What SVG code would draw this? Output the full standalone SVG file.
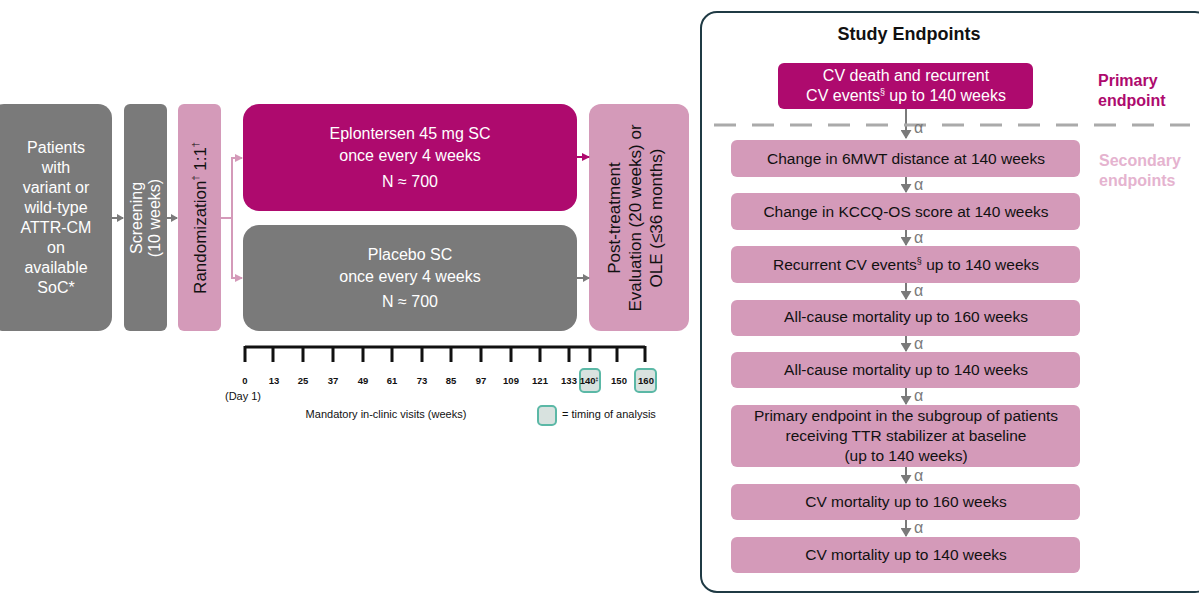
<svg xmlns="http://www.w3.org/2000/svg" width="1199" height="601" viewBox="0 0 1199 601">
<style>
text{font-family:"Liberation Sans",Arial,sans-serif}
.w{fill:#fff;font-size:16px;text-anchor:middle}
.k{fill:#111;font-size:15.5px;text-anchor:middle}
.g{fill:#7a7a7a}.p{fill:#d49ab9}.m{fill:#ae0a6e}
.t{font-size:9.5px;font-weight:bold;text-anchor:middle;fill:#111}
.a{fill:#7a7a7a;font-size:16px}
</style>
<defs>
<marker id="ag" markerWidth="7" markerHeight="8" refX="6" refY="4" orient="auto" markerUnits="userSpaceOnUse"><path d="M0,0L7,4L0,8z" fill="#7a7a7a"/></marker>
<marker id="ap" markerWidth="8" markerHeight="8" refX="7" refY="4" orient="auto" markerUnits="userSpaceOnUse"><path d="M0,0L8,4L0,8z" fill="#d49ab9"/></marker>
<marker id="am" markerWidth="8" markerHeight="8" refX="7" refY="4" orient="auto" markerUnits="userSpaceOnUse"><path d="M0,0L8,4L0,8z" fill="#ae0a6e"/></marker>
<marker id="ad" markerWidth="9" markerHeight="11" refX="8" refY="5.5" orient="auto" markerUnits="userSpaceOnUse"><path d="M0,0L9,5.5L0,11z" fill="#7a7a7a"/></marker>
</defs>
<rect width="1199" height="601" fill="#fff"/>
<g id="patients"><rect x="-10" y="104" width="122" height="227" rx="14" class="g"/>
<text class="w" font-size="16"><tspan x="56" y="153">Patients</tspan><tspan x="56" y="173">with</tspan><tspan x="56" y="193">variant or</tspan><tspan x="56" y="213">wild-type</tspan><tspan x="56" y="233">ATTR-CM</tspan><tspan x="56" y="253">on</tspan><tspan x="56" y="273">available</tspan><tspan x="56" y="293">SoC*</tspan></text></g>
<g id="screening"><rect x="124" y="104" width="43" height="227" rx="6" class="g"/>
<text class="w" transform="translate(145,218) rotate(-90)"><tspan x="0" y="-3">Screening</tspan><tspan x="0" y="15">(10 weeks)</tspan></text></g>
<g id="randomization"><rect x="178" y="104" width="43" height="227" rx="6" class="p"/>
<text fill="#111" font-size="17" text-anchor="middle" transform="translate(206,218) rotate(-90)">Randomization<tspan font-size="9" dy="-7">†</tspan><tspan dy="7"> 1:1</tspan><tspan font-size="9" dy="-7">†</tspan></text></g>
<g id="eplontersen"><rect x="243" y="104" width="334" height="107" rx="16" class="m"/>
<text class="w"><tspan x="410" y="139">Eplontersen 45 mg SC</tspan><tspan x="410" y="161">once every 4 weeks</tspan><tspan x="410" y="187">N ≈ 700</tspan></text></g>
<g id="placebo"><rect x="243" y="225" width="334" height="106" rx="16" class="g"/>
<text class="w"><tspan x="410" y="260">Placebo SC</tspan><tspan x="410" y="282">once every 4 weeks</tspan><tspan x="410" y="307">N ≈ 700</tspan></text></g>
<g id="post"><rect x="589" y="104" width="100" height="227" rx="12" class="p"/>
<text fill="#111" font-size="17" text-anchor="middle" transform="translate(636,218) rotate(-90)"><tspan x="0" y="-16">Post-treatment</tspan><tspan x="0" y="5">Evaluation (20 weeks) or</tspan><tspan x="0" y="26">OLE (≤36 months)</tspan></text></g>
<g id="connectors" fill="none">
<path d="M112,218H123" stroke="#7a7a7a" stroke-width="2" marker-end="url(#ag)"/>
<path d="M167,218H177" stroke="#7a7a7a" stroke-width="2" marker-end="url(#ag)"/>
<path d="M221,218H232M232,158V278" stroke="#d49ab9" stroke-width="2"/>
<path d="M231,158H242" stroke="#d49ab9" stroke-width="2" marker-end="url(#ap)"/>
<path d="M231,278H242" stroke="#d49ab9" stroke-width="2" marker-end="url(#ap)"/>
<path d="M577,157H589" stroke="#ae0a6e" stroke-width="2" marker-end="url(#am)"/>
<path d="M577,278H589" stroke="#7a7a7a" stroke-width="2" marker-end="url(#ag)"/>
<path d="M906,109V138" stroke="#7a7a7a" stroke-width="2" marker-end="url(#ad)"/>
<path d="M906,177V192" stroke="#7a7a7a" stroke-width="2" marker-end="url(#ad)"/>
<path d="M906,230V245" stroke="#7a7a7a" stroke-width="2" marker-end="url(#ad)"/>
<path d="M906,283V299" stroke="#7a7a7a" stroke-width="2" marker-end="url(#ad)"/>
<path d="M906,336V351" stroke="#7a7a7a" stroke-width="2" marker-end="url(#ad)"/>
<path d="M906,388V404" stroke="#7a7a7a" stroke-width="2" marker-end="url(#ad)"/>
<path d="M906,467V483" stroke="#7a7a7a" stroke-width="2" marker-end="url(#ad)"/>
<path d="M906,520V536" stroke="#7a7a7a" stroke-width="2" marker-end="url(#ad)"/>
</g>
<g id="timeline">
<path d="M245,347H645M245,346V362M273,346V362M303,346V362M333,346V362M363,346V362M392,346V362M422,346V362M451,346V362M481,346V362M511,346V362M540,346V362M569,346V362M590,346V362M617,346V362M645,346V362" stroke="#111" stroke-width="3" fill="none"/>
<rect x="580" y="369" width="20" height="23" rx="4" fill="#d8e2df" stroke="#5bb8a6" stroke-width="2"/>
<rect x="635" y="369" width="21" height="23" rx="4" fill="#d8e2df" stroke="#5bb8a6" stroke-width="2"/>
<text class="t"><tspan x="245" y="384">0</tspan><tspan x="274" y="384">13</tspan><tspan x="303" y="384">25</tspan><tspan x="333" y="384">37</tspan><tspan x="363" y="384">49</tspan><tspan x="392" y="384">61</tspan><tspan x="422" y="384">73</tspan><tspan x="451" y="384">85</tspan><tspan x="481" y="384">97</tspan><tspan x="511" y="384">109</tspan><tspan x="540" y="384">121</tspan><tspan x="569" y="384">133</tspan><tspan x="589" y="384">140<tspan font-size="5" dy="-3">‡</tspan></tspan><tspan x="619" y="384">150</tspan><tspan x="646" y="384">160</tspan></text>
<text x="243" y="400" font-size="11" text-anchor="middle" fill="#111">(Day 1)</text>
<text x="386" y="418" font-size="11" text-anchor="middle" fill="#111">Mandatory in-clinic visits (weeks)</text>
<rect x="538" y="406" width="18" height="19" rx="4" fill="#d8e2df" stroke="#5bb8a6" stroke-width="2"/>
<text x="562" y="418" font-size="11" fill="#111">= timing of analysis</text>
</g>
<g id="panel"><rect x="701" y="12" width="510" height="580" rx="16" fill="none" stroke="#1f3a44" stroke-width="2"/>
<text x="909" y="40" font-size="18" font-weight="bold" text-anchor="middle" fill="#111">Study Endpoints</text>
<path d="M714,125H1190" stroke="#aaa" stroke-width="3" stroke-dasharray="22,16" fill="none"/>
<text font-size="16" font-weight="bold" fill="#ae0a6e"><tspan x="1098" y="86">Primary</tspan><tspan x="1098" y="106">endpoint</tspan></text>
<text font-size="16" font-weight="bold" fill="#e5b3cf"><tspan x="1099" y="166">Secondary</tspan><tspan x="1099" y="186">endpoints</tspan></text>
</g>
<g id="primary"><rect x="778" y="63" width="255" height="46" rx="6" class="m"/>
<text class="w" font-size="15.5"><tspan x="906" y="81">CV death and recurrent</tspan><tspan x="906" y="101">CV events<tspan font-size="9" dy="-6">§</tspan><tspan dy="6"> up to 140 weeks</tspan></tspan></text></g>
<g class="a"><text x="914" y="133">α</text><text x="914" y="190">α</text><text x="914" y="243">α</text><text x="914" y="296">α</text><text x="914" y="349">α</text><text x="914" y="401">α</text><text x="914" y="481">α</text><text x="914" y="533">α</text></g>
<g id="s1"><rect x="731" y="140" width="349" height="37" rx="6" class="p"/><text class="k" x="906" y="164">Change in 6MWT distance at 140 weeks</text></g>
<g id="s2"><rect x="731" y="193" width="349" height="37" rx="6" class="p"/><text class="k" x="906" y="217">Change in KCCQ-OS score at 140 weeks</text></g>
<g id="s3"><rect x="731" y="246" width="349" height="37" rx="6" class="p"/><text class="k" x="906" y="270">Recurrent CV events<tspan font-size="9" dy="-6">§</tspan><tspan dy="6"> up to 140 weeks</tspan></text></g>
<g id="s4"><rect x="731" y="300" width="349" height="36" rx="6" class="p"/><text class="k" x="906" y="322">All-cause mortality up to 160 weeks</text></g>
<g id="s5"><rect x="731" y="352" width="349" height="36" rx="6" class="p"/><text class="k" x="906" y="375">All-cause mortality up to 140 weeks</text></g>
<g id="s6"><rect x="731" y="405" width="349" height="62" rx="6" class="p"/><text class="k"><tspan x="906" y="421">Primary endpoint in the subgroup of patients</tspan><tspan x="906" y="441">receiving TTR stabilizer at baseline</tspan><tspan x="906" y="461">(up to 140 weeks)</tspan></text></g>
<g id="s7"><rect x="731" y="484" width="349" height="36" rx="6" class="p"/><text class="k" x="906" y="507">CV mortality up to 160 weeks</text></g>
<g id="s8"><rect x="731" y="537" width="349" height="36" rx="6" class="p"/><text class="k" x="906" y="560">CV mortality up to 140 weeks</text></g>
</svg>
